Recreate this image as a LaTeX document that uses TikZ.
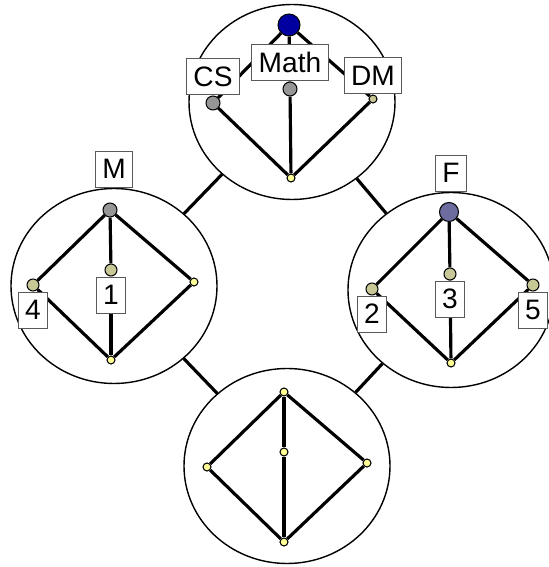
\documentclass[tikz,border=0pt]{standalone}
\usepackage{fontspec}
\setmainfont{Liberation Sans}
\usetikzlibrary{positioning,shapes}

\definecolor{deepblue}{RGB}{0,0,160}
\definecolor{slate}{RGB}{108,108,158}
\definecolor{midgray}{RGB}{150,150,150}
\definecolor{khaki}{RGB}{200,200,150}
\definecolor{paleyel}{RGB}{255,255,150}

\begin{document}
\begin{tikzpicture}[
    grp/.style={draw,ellipse,line width=.8pt,minimum width=4.12cm,minimum height=3.9cm,inner sep=0pt},
    elem/.style={draw,circle,line width=.6pt,inner sep=0pt,minimum size=#1},
    elem/.default=.16cm,
    lbl/.style={draw=black!65,fill=white,line width=.6pt,minimum height=.72cm,inner xsep=.14cm,inner ysep=0pt,font=\fontsize{16}{18}\selectfont},
    ln/.style={line width=1.8pt}]
    \useasboundingbox (0,0) rectangle (10.96,11.34);

    \node[grp] (gtop) at (5.84,9.30) {};
    \node[grp] (gleft) at (2.28,5.62) {};
    \node[grp] (gright) at (9.02,5.54) {};
    \node[grp] (gbot) at (5.74,2.02) {};
    \foreach \from/\to in {gtop/gleft,gtop/gright,gleft/gbot,gright/gbot}
        \draw[ln] (\from)--(\to);

    % Math
    \node[elem=.44cm,fill=deepblue] (top0) at (5.78,10.84) {};
    \node[elem=.28cm,fill=midgray] (top1) at (4.26,9.28) {};
    \node[elem=.28cm,fill=midgray] (top2) at (5.80,9.56) {};
    \node[elem,fill=khaki] (top3) at (7.46,9.36) {};
    \node[elem,fill=paleyel] (top4) at (5.82,7.78) {};

    % M
    \node[elem=.28cm,fill=midgray] (lft0) at (2.20,7.14) {};
    \node[elem=.24cm,fill=khaki] (lft1) at (0.66,5.64) {};
    \node[elem=.24cm,fill=khaki] (lft2) at (2.22,5.94) {};
    \node[elem,fill=paleyel] (lft3) at (3.88,5.70) {};
    \node[elem,fill=paleyel] (lft4) at (2.22,4.14) {};

    % F
    \node[elem=.38cm,fill=slate] (rgt0) at (8.98,7.10) {};
    \node[elem=.24cm,fill=khaki] (rgt1) at (7.44,5.56) {};
    \node[elem=.24cm,fill=khaki] (rgt2) at (9.00,5.86) {};
    \node[elem=.24cm,fill=khaki] (rgt3) at (10.66,5.64) {};
    \node[elem,fill=paleyel] (rgt4) at (9.02,4.08) {};

    \node[elem,fill=paleyel] (bot0) at (5.68,3.50) {};
    \node[elem,fill=paleyel] (bot1) at (4.14,2.00) {};
    \node[elem,fill=paleyel] (bot2) at (5.68,2.30) {};
    \node[elem,fill=paleyel] (bot3) at (7.34,2.08) {};
    \node[elem,fill=paleyel] (bot4) at (5.68,0.50) {};

    \foreach \g in {top,lft,rgt,bot}
        \foreach \i in {1,2,3} {
            \draw[ln] (\g0)--(\g\i);
            \draw[ln] (\g\i)--(\g4);
        }

    \node[lbl,above=0pt of top1] (labcs) {CS};
    \node[lbl,above=0pt of top2] (labmath) {Math};
    \node[lbl,above=0pt of top3] (labdm) {DM};
    \node[lbl,above=0pt of gleft] (labm) {M};
    \node[lbl,below=0pt of lft1] (lab4) {4};
    \node[lbl,below=0pt of lft2] (lab1) {1};
    \node[lbl,above=0pt of gright] (labf) {F};
    \node[lbl,below=0pt of rgt1] (lab2) {2};
    \node[lbl,below=0pt of rgt2] (lab3) {3};
    \node[lbl,below=0pt of rgt3] (lab5) {5};
\end{tikzpicture}
\end{document}
